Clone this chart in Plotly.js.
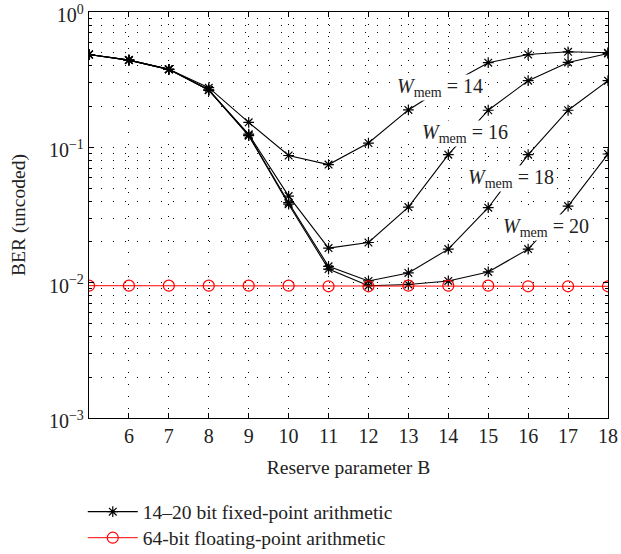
<!DOCTYPE html>
<html>
<head>
<meta charset="utf-8">
<script src="https://cdn.plot.ly/plotly-3.0.1.min.js"></script>
<style>
html,body{margin:0;padding:0;background:#fff;}
#chart{width:621px;height:554px;}
</style>
</head>
<body>
<div id="chart"></div>
<script>
// Reserve parameter B
const reserveB = [5, 6, 7, 8, 9, 10, 11, 12, 13, 14, 15, 16, 17, 18];
// BER, fixed-point arithmetic, per memory word length
const berW14 = [0.485, 0.441, 0.377, 0.276, 0.153, 0.087, 0.0746, 0.1076, 0.189, 0.29, 0.422, 0.485, 0.508, 0.50];
const berW16 = [0.485, 0.441, 0.377, 0.265, 0.125, 0.0436, 0.018, 0.0198, 0.0362, 0.0883, 0.188, 0.311, 0.424, 0.494];
const berW18 = [0.485, 0.441, 0.377, 0.265, 0.123, 0.039, 0.0132, 0.0103, 0.0118, 0.0177, 0.0358, 0.0883, 0.188, 0.311];
const berW20 = [0.485, 0.441, 0.377, 0.265, 0.122, 0.038, 0.0126, 0.0095, 0.0097, 0.0103, 0.012, 0.0177, 0.0368, 0.0893];
// BER, 64-bit floating point
const berFloat = [0.0095, 0.0095, 0.0095, 0.0095, 0.0095, 0.0095, 0.0094, 0.0094, 0.0095, 0.0095, 0.0095, 0.0094, 0.0094, 0.0094];
// Curve labels
const memLabels = ['14', '16', '18', '20'];
const xTicks = [6, 7, 8, 9, 10, 11, 12, 13, 14, 15, 16, 17, 18];
const yTickVals = [0.001, 0.01, 0.1, 1];
const yTickText = ['10<sup>−3</sup>', '10<sup>−2</sup>', '10<sup>−1</sup>', '10<sup>0</sup>'];
const legendNames = ['14–20 bit fixed-point arithmetic', '64-bit floating-point arithmetic'];

const FONT = 'Liberation Serif, Times New Roman, serif';
const fixedSeries = [berW14, berW16, berW18, berW20];

const traces = fixedSeries.map((ys, i) => ({
  x: reserveB, y: ys, type: 'scatter', mode: 'lines+markers',
  name: legendNames[0], legend: 'legend', showlegend: i === 0,
  line: {color: '#000', width: 1.1},
  marker: {symbol: 'asterisk-open', size: 9, color: '#000', line: {color: '#000', width: 1.2}}
}));
traces.push({
  x: reserveB, y: berFloat, type: 'scatter', mode: 'lines+markers',
  name: legendNames[1], legend: 'legend2', showlegend: true,
  line: {color: '#ff0000', width: 1},
  marker: {symbol: 'circle-open', size: 11, color: '#ff0000', line: {color: '#ff0000', width: 1.2}}
});

const annPos = [[13.79, -0.559], [14.42, -0.897], [15.57, -1.228], [16.45, -1.596]];
const annotations = memLabels.map((m, i) => ({
  x: annPos[i][0], y: annPos[i][1], xref: 'x', yref: 'y',
  text: '<i>W</i><sub>mem</sub> = ' + m, showarrow: false,
  bgcolor: '#fff', borderpad: 0,
  font: {family: FONT, size: 20, color: '#222'}
}));

const legendBase = {
  xanchor: 'left', yanchor: 'middle',
  font: {family: FONT, size: 19.5, color: '#222'},
  bgcolor: 'rgba(0,0,0,0)', itemwidth: 50, borderwidth: 0
};

const gridDash = '1px,11px';
const layout = {
  width: 621, height: 554,
  margin: {l: 89, r: 13, t: 12, b: 136, autoexpand: false},
  paper_bgcolor: '#fff', plot_bgcolor: '#fff',
  font: {family: FONT, size: 20, color: '#222'},
  showlegend: true,
  legend: Object.assign({x: -0.012, y: -0.2315}, legendBase),
  legend2: Object.assign({x: -0.012, y: -0.2956}, legendBase),
  xaxis: {
    type: 'linear', range: [5, 18],
    tickmode: 'array', tickvals: xTicks, ticktext: xTicks.map(String),
    ticks: 'inside', ticklen: 5, tickcolor: '#000',
    showline: true, linecolor: '#000', linewidth: 1.2, mirror: 'allticks',
    showgrid: true, gridcolor: '#000', gridwidth: 1, griddash: gridDash,
    zeroline: false,
    tickfont: {family: FONT, size: 20, color: '#222'},
    title: {text: 'Reserve parameter B', font: {family: FONT, size: 19.5, color: '#222'}, standoff: 14}
  },
  yaxis: {
    type: 'log', range: [-3, 0],
    tickmode: 'array', tickvals: yTickVals, ticktext: yTickText,
    ticks: 'inside', ticklen: 5, tickcolor: '#000', ticklabelshift: 3,
    showline: true, linecolor: '#000', linewidth: 1.2, mirror: 'allticks',
    showgrid: true, gridcolor: '#000', gridwidth: 1, griddash: gridDash,
    zeroline: false,
    minor: {dtick: 'D1', ticks: 'inside', ticklen: 3, tickcolor: '#000', showgrid: true, gridcolor: '#000', gridwidth: 1, griddash: gridDash},
    tickfont: {family: FONT, size: 20, color: '#222'},
    title: {text: 'BER (uncoded)', font: {family: FONT, size: 19.5, color: '#222'}, standoff: 18}
  },
  annotations: annotations
};

Plotly.newPlot('chart', traces, layout, {displayModeBar: false, staticPlot: true});
</script>
</body>
</html>
